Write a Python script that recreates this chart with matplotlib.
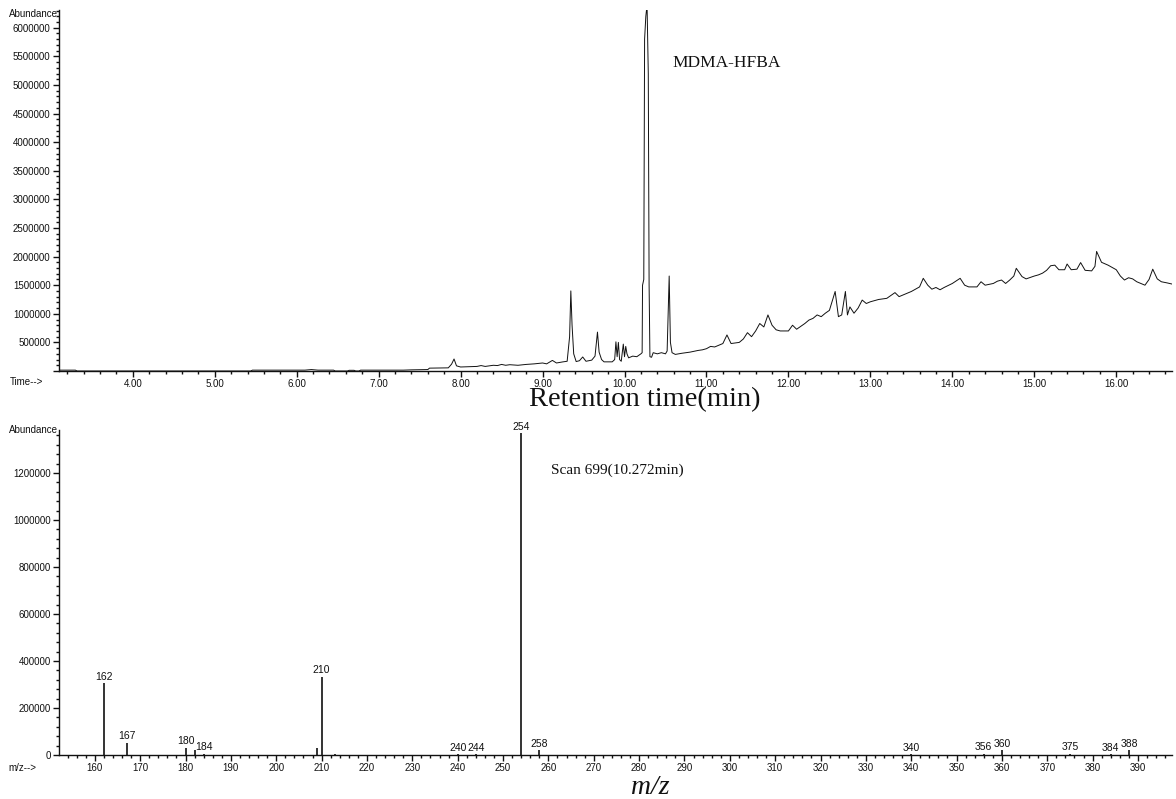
"""GC-MS total ion chromatogram and the mass spectrum of the MDMA-HFBA peak."""

import matplotlib
matplotlib.use("Agg")
import matplotlib.pyplot as plt
from matplotlib.ticker import MultipleLocator, FuncFormatter

plt.rcParams["font.family"] = ["Liberation Sans", "DejaVu Sans"]

# total ion chromatogram: retention time (min) and abundance
rt_min = [
    3.10, 3.30, 3.32, 5.44, 5.46, 6.10, 6.18, 6.26, 6.45, 6.47, 6.62, 6.64, 6.70, 6.72,
    6.76, 6.78, 7.30, 7.40, 7.60, 7.62, 7.85, 7.89, 7.92, 7.95, 8.00, 8.10, 8.20, 8.25,
    8.30, 8.40, 8.45, 8.50, 8.55, 8.60, 8.70, 8.80, 8.90, 9.00, 9.05, 9.12, 9.17, 9.25,
    9.30, 9.33, 9.345, 9.36, 9.38, 9.41, 9.45, 9.49, 9.53, 9.60, 9.64, 9.67, 9.69, 9.72,
    9.75, 9.85, 9.88, 9.895, 9.91, 9.925, 9.94, 9.96, 9.985, 10.00, 10.015, 10.03, 10.05,
    10.10, 10.15, 10.20, 10.215, 10.22, 10.235, 10.245, 10.26, 10.275, 10.29, 10.30,
    10.31, 10.33, 10.35, 10.40, 10.45, 10.50, 10.52, 10.545, 10.56, 10.58, 10.62, 10.70,
    10.80, 10.90, 10.95, 11.00, 11.05, 11.10, 11.20, 11.25, 11.30, 11.40, 11.45, 11.50,
    11.55, 11.60, 11.65, 11.70, 11.75, 11.80, 11.85, 11.90, 12.00, 12.05, 12.10, 12.20,
    12.25, 12.30, 12.35, 12.40, 12.45, 12.50, 12.57, 12.61, 12.65, 12.695, 12.72, 12.75,
    12.80, 12.85, 12.90, 12.95, 13.00, 13.10, 13.20, 13.30, 13.35, 13.40, 13.50, 13.60,
    13.645, 13.70, 13.75, 13.80, 13.85, 13.90, 14.00, 14.095, 14.15, 14.20, 14.30, 14.35,
    14.40, 14.50, 14.55, 14.60, 14.65, 14.70, 14.75, 14.78, 14.85, 14.90, 15.00, 15.05,
    15.10, 15.15, 15.20, 15.25, 15.30, 15.37, 15.40, 15.45, 15.52, 15.565, 15.62, 15.70,
    15.74, 15.76, 15.82, 15.90, 16.00, 16.05, 16.10, 16.15, 16.20, 16.25, 16.30, 16.35,
    16.40, 16.445, 16.50, 16.55, 16.62, 16.68,
]
tic_abundance = [
    15000, 15000, 0, 0, 15000, 15000, 25000, 15000, 15000, 0, 0, 12000, 12000, 0,
    0, 15000, 15000, 20000, 25000, 50000, 55000, 120000, 210000, 90000, 70000, 75000, 80000, 95000,
    80000, 100000, 95000, 115000, 100000, 110000, 100000, 115000, 125000, 140000, 125000, 185000, 140000, 160000,
    170000, 600000, 1400000, 800000, 300000, 165000, 180000, 245000, 170000, 190000, 260000, 680000, 330000, 200000,
    160000, 160000, 200000, 510000, 250000, 500000, 200000, 170000, 470000, 250000, 430000, 300000, 230000,
    260000, 250000, 300000, 320000, 1500000, 1600000, 5800000, 6200000, 6400000, 5200000, 1500000,
    250000, 240000, 320000, 300000, 320000, 300000, 350000, 1660000, 500000, 320000, 290000, 310000,
    330000, 360000, 370000, 390000, 430000, 420000, 480000, 630000, 480000, 500000, 560000, 670000,
    600000, 700000, 830000, 770000, 980000, 800000, 720000, 700000, 700000, 800000, 730000, 830000,
    890000, 920000, 980000, 950000, 1010000, 1060000, 1390000, 950000, 980000, 1390000, 980000, 1120000,
    1010000, 1100000, 1240000, 1180000, 1210000, 1250000, 1270000, 1370000, 1300000, 1330000, 1390000, 1470000,
    1620000, 1500000, 1430000, 1460000, 1420000, 1460000, 1530000, 1620000, 1500000, 1470000, 1470000, 1560000,
    1500000, 1530000, 1570000, 1590000, 1530000, 1590000, 1660000, 1795000, 1650000, 1610000, 1660000, 1680000,
    1710000, 1760000, 1840000, 1850000, 1770000, 1770000, 1870000, 1770000, 1780000, 1895000, 1760000, 1750000,
    1830000, 2090000, 1900000, 1850000, 1770000, 1660000, 1590000, 1630000, 1610000, 1560000, 1530000, 1500000,
    1600000, 1780000, 1610000, 1560000, 1540000, 1520000,
]

# mass spectrum of scan 699
mz = [162, 167, 180, 182, 184, 209, 210, 213, 240, 244, 254, 258, 340, 356, 360, 375, 384, 388]
ms_abundance = [306000, 52000, 31000, 21000, 6000, 30000, 333000, 6000, 4000, 4000,
                1370000, 20000, 4000, 6000, 20000, 6000, 4000, 20000]
labelled_mz = [162, 167, 180, 184, 210, 240, 244, 254, 258, 340, 356, 360, 375, 384, 388]

TICK_FONT = 7
INK = "#111111"


def style_axes(ax):
    for side in ("top", "right"):
        ax.spines[side].set_visible(False)
    for side in ("left", "bottom"):
        ax.spines[side].set_color(INK)
        ax.spines[side].set_linewidth(1.0)
    ax.tick_params(which="major", length=4, width=1, color=INK, labelsize=TICK_FONT,
                   labelcolor=INK, pad=2)
    ax.tick_params(which="minor", length=2, width=1, color=INK)


fig = plt.figure(figsize=(11.76, 7.99), dpi=100)

# chromatogram
ax1 = fig.add_axes([59 / 1176, 1 - 371 / 799, 1113 / 1176, 361 / 799])
ax1.plot(rt_min, tic_abundance, color=INK, lw=0.7)
ax1.set_xlim(3.10, 16.68)
ax1.set_ylim(0, 6310000)
ax1.xaxis.set_major_locator(MultipleLocator(1.0))
ax1.xaxis.set_minor_locator(MultipleLocator(0.2))
ax1.xaxis.set_major_formatter(FuncFormatter(lambda v, p: f"{v:.2f}"))
ax1.yaxis.set_major_locator(MultipleLocator(500000))
ax1.yaxis.set_minor_locator(MultipleLocator(100000))
ax1.yaxis.set_major_formatter(FuncFormatter(lambda v, p: "" if v == 0 else f"{v:.0f}"))
style_axes(ax1)
ax1.text(-0.001, 0.99, "Abundance", transform=ax1.transAxes, ha="right", va="center",
         fontsize=TICK_FONT, color=INK)
ax1.text(0.551, 0.853, "MDMA-HFBA", transform=ax1.transAxes, ha="left", va="center",
         fontsize=12.5, family="Liberation Serif", color=INK)
fig.text(10 / 1176, 1 - 382 / 799, "Time-->", ha="left", va="center", fontsize=TICK_FONT,
         color=INK)
fig.text(645 / 1176, 1 - 400 / 799, "Retention time(min)", ha="center", va="center",
         fontsize=20.5, family="Liberation Serif", color=INK)

# mass spectrum
ax2 = fig.add_axes([59 / 1176, 1 - 755 / 799, 1113 / 1176, 325 / 799])
ax2.vlines(mz, 0, ms_abundance, color=INK, lw=1.2)
ax2.set_xlim(152.1, 397.5)
ax2.set_ylim(0, 1383000)
ax2.xaxis.set_major_locator(MultipleLocator(10))
ax2.xaxis.set_minor_locator(MultipleLocator(2))
ax2.yaxis.set_major_locator(MultipleLocator(200000))
ax2.yaxis.set_minor_locator(MultipleLocator(40000))
ax2.yaxis.set_major_formatter(FuncFormatter(lambda v, p: f"{v:.0f}"))
style_axes(ax2)
for m, a in zip(mz, ms_abundance):
    if m in labelled_mz:
        ax2.annotate(str(m), (m, a), xytext=(0, 1), textcoords="offset points",
                     ha="center", va="bottom", fontsize=7.5, color=INK,
                     annotation_clip=False)
ax2.text(-0.001, 1.0, "Abundance", transform=ax2.transAxes, ha="right", va="center",
         fontsize=TICK_FONT, color=INK)
ax2.text((551 - 59) / 1113, 0.876, "Scan 699(10.272min)",
         transform=ax2.transAxes, ha="left", va="center", fontsize=11,
         family="Liberation Serif", color=INK)
fig.text(8 / 1176, 1 - 768 / 799, "m/z-->", ha="left", va="center", fontsize=TICK_FONT,
         color=INK)
fig.text(650 / 1176, 1 - 787 / 799, "m/z", ha="center", va="center", fontsize=20,
         family="Liberation Serif", style="italic", color=INK)

fig.savefig("out.png", dpi=100)
